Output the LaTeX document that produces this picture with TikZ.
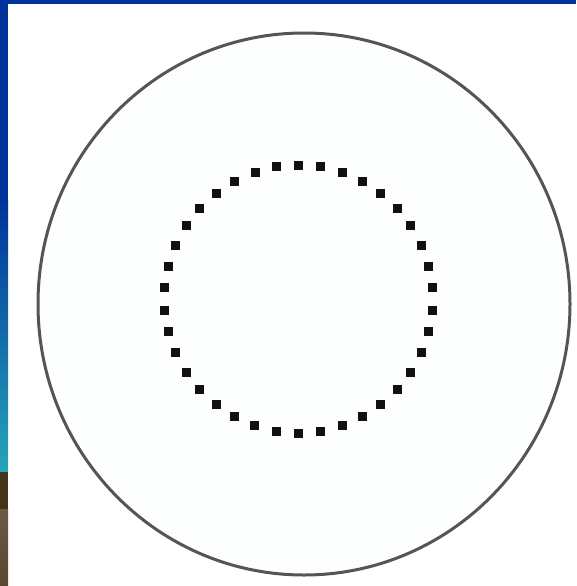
\documentclass[tikz,border=0pt]{standalone}
\usetikzlibrary{calc}
\definecolor{frameblue}{RGB}{0,51,153}
\definecolor{sideteal}{RGB}{38,165,184}
\definecolor{darkbrown}{RGB}{70,52,24}
\definecolor{lightbrown}{RGB}{107,90,70}
\definecolor{lowbrown}{RGB}{88,70,48}
\definecolor{ringgray}{RGB}{85,85,85}
\definecolor{dotc}{RGB}{17,17,17}
\definecolor{innerfill}{RGB}{253,254,254}
\tikzset{
  ring/.style={draw=ringgray, line width=3pt},
  dotsq/.style={fill=dotc}
}
\begin{document}
\begin{tikzpicture}[x=1pt,y=-1pt]
\useasboundingbox (0,0) rectangle (576,586);
\fill[white] (0,0) rectangle (576,586);
% frame
\fill[frameblue] (0,0) rectangle (576,4);
\fill[frameblue] (0,0) rectangle (8,200);
\shade[top color=frameblue, bottom color=sideteal] (0,200) rectangle (8,472);
\fill[darkbrown] (0,472) rectangle (8,509);
\shade[top color=lightbrown, bottom color=lowbrown] (0,509) rectangle (8,586);
% outer circle
\coordinate (c) at (304,304);
\draw[ring, fill=innerfill] (c) ellipse [x radius=266, y radius=271];
% dotted circle
\coordinate (d) at (298.5,299);
\foreach \i in {0,...,37}{
  \fill[dotsq] ($(d)+({4.74+\i*360/38}:134)$) ++(-4.5,-4.5) rectangle ++(9,9);
}
\end{tikzpicture}
\end{document}
